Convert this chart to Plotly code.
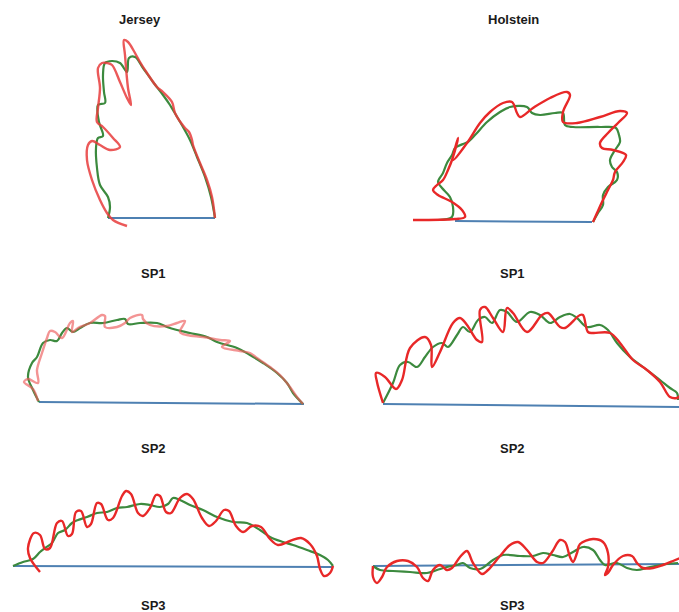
import plotly.graph_objects as go

W, H = 679, 612

# ---- outline profiles (x, y) for each breed / section ----
# Jersey SP1
jer_sp1_smooth = [(108, 218), (110, 207), (108, 197), (100, 185), (97, 168), (96, 148), (98, 138),
                  (103, 136), (99, 122), (98, 105), (105, 103), (104, 92), (103, 75), (105, 63),
                  (112, 61), (120, 63), (127, 72), (129, 58), (135, 57), (143, 68), (153, 82),
                  (163, 95), (170, 105), (173, 110), (183, 127), (190, 140), (197, 157), (205, 177),
                  (211, 197), (215, 218)]
jer_sp1_raw = [(127, 226), (113, 220), (107, 213), (100, 200), (92, 180), (87, 160), (88, 145),
               (92, 141), (100, 145), (110, 150), (120, 147), (113, 138), (103, 127), (97, 122),
               (98, 108), (100, 88), (98, 68), (102, 63), (107, 63), (112, 65), (120, 82), (127, 98),
               (131, 105), (128, 88), (125, 55), (124, 40), (128, 42), (135, 53), (140, 62),
               (147, 73), (157, 87), (163, 92), (172, 102), (175, 113), (185, 128), (189, 132),
               (192, 140), (193, 145), (200, 163), (207, 180), (212, 197), (215, 218)]
jer_sp1_base = [(108, 218), (215, 218)]

# Holstein SP1
hol_sp1_smooth = [(438, 220), (452, 217), (453, 207), (450, 197), (442, 188), (438, 182), (443, 173),
                  (447, 163), (452, 155), (455, 148), (463, 144), (468, 142), (476, 134), (487, 122),
                  (500, 112), (510, 107), (527, 107), (532, 113), (540, 115), (555, 113), (563, 113),
                  (565, 125), (573, 127), (600, 127), (616, 128), (619, 135), (620, 142), (615, 150),
                  (610, 160), (612, 167), (617, 172), (617, 180), (608, 187), (603, 195), (603, 205),
                  (598, 213), (593, 222)]
hol_sp1_raw = [(413, 220), (455, 219), (465, 217), (462, 210), (452, 202), (438, 195), (433, 190),
               (437, 185), (443, 180), (448, 170), (452, 160), (457, 143), (458, 138), (453, 160),
               (467, 143), (480, 123), (490, 112), (503, 103), (512, 102), (517, 113), (520, 117),
               (533, 108), (550, 98), (567, 92), (570, 95), (563, 112), (563, 122), (577, 123),
               (600, 117), (620, 111), (627, 113), (618, 123), (608, 133), (600, 143), (602, 148),
               (613, 150), (626, 155), (623, 162), (615, 172), (613, 180), (608, 190), (602, 202),
               (597, 213), (593, 222)]
hol_sp1_base = [(455, 221), (592, 222)]

# Jersey SP2
jer_sp2_smooth = [(39, 402), (33, 390), (28, 377), (32, 363), (37, 357), (43, 343), (50, 340),
                  (57, 341), (62, 333), (67, 328), (73, 332), (80, 328), (90, 323), (103, 323),
                  (117, 320), (125, 319), (128, 324), (140, 323), (157, 323), (167, 327), (177, 330),
                  (190, 333), (207, 337), (217, 342), (237, 348), (250, 355), (263, 363), (277, 373),
                  (287, 383), (293, 393), (303, 404)]
jer_sp2_raw = [(38, 401), (33, 389), (24, 382), (28, 379), (38, 383), (37, 370), (42, 353), (47, 338),
               (50, 331), (55, 332), (62, 338), (70, 323), (73, 321), (72, 332), (78, 328), (90, 323),
               (102, 315), (105, 316), (105, 327), (117, 327), (125, 323), (130, 318), (142, 315),
               (143, 319), (150, 325), (167, 326), (177, 323), (185, 321), (180, 332), (187, 335),
               (203, 337), (220, 340), (230, 341), (222, 347), (240, 351), (250, 353), (257, 358),
               (270, 367), (280, 375), (290, 387), (297, 397), (303, 404)]
jer_sp2_base = [(39, 402), (304, 404)]

# Holstein SP2
hol_sp2_smooth = [(383, 403), (393, 383), (400, 365), (408, 362), (417, 367), (425, 357), (433, 347),
                  (442, 343), (448, 347), (457, 335), (463, 327), (470, 332), (478, 320), (485, 317),
                  (492, 323), (500, 310), (507, 312), (517, 322), (530, 312), (540, 315), (550, 323),
                  (560, 317), (570, 314), (577, 318), (587, 327), (600, 325), (608, 330), (617, 343),
                  (630, 357), (643, 367), (660, 380), (670, 388), (677, 393), (678, 400)]
hol_sp2_raw = [(383, 403), (377, 382), (376, 373), (385, 377), (396, 389), (402, 380), (410, 348),
               (425, 337), (431, 345), (432, 367), (440, 352), (453, 323), (460, 318), (467, 325),
               (477, 340), (482, 342), (480, 310), (485, 307), (493, 318), (503, 332), (507, 308),
               (513, 313), (527, 332), (542, 315), (548, 313), (560, 327), (565, 328), (580, 315),
               (583, 315), (588, 332), (593, 333), (610, 333), (620, 343), (633, 360), (647, 370),
               (660, 382), (670, 397), (677, 398), (680, 396)]
hol_sp2_base = [(383, 404), (679, 407)]

# Jersey SP3
jer_sp3_smooth = [(13, 566), (23, 562), (33, 559), (40, 552), (45, 548), (52, 543), (58, 533),
                  (65, 530), (72, 523), (78, 520), (87, 517), (97, 513), (107, 512), (117, 508),
                  (127, 507), (140, 504), (150, 505), (160, 507), (168, 504), (173, 498), (180, 500),
                  (190, 505), (203, 510), (217, 517), (233, 522), (247, 523), (260, 530), (270, 537),
                  (283, 542), (293, 545), (307, 550), (320, 555), (328, 560), (333, 566)]
jer_sp3_raw = [(40, 572), (30, 558), (28, 548), (34, 533), (40, 535), (45, 549), (50, 548), (57, 523),
               (62, 521), (68, 536), (72, 534), (76, 512), (81, 511), (87, 527), (91, 524), (97, 503),
               (101, 504), (108, 520), (113, 518), (122, 496), (126, 491), (131, 494), (138, 513),
               (143, 516), (150, 508), (156, 495), (160, 496), (166, 512), (171, 513), (180, 498),
               (187, 494), (193, 499), (202, 518), (209, 526), (216, 521), (224, 510), (229, 511),
               (236, 526), (243, 532), (252, 526), (261, 527), (270, 539), (278, 545), (290, 541),
               (301, 538), (310, 544), (317, 556), (320, 569), (324, 576), (330, 573), (333, 566)]
jer_sp3_base = [(13, 566), (333, 567)]

# Holstein SP3
hol_sp3_smooth = [(373, 566), (380, 570), (393, 571), (410, 572), (427, 573), (437, 570), (447, 567),
                  (457, 565), (463, 563), (470, 568), (480, 569), (493, 560), (503, 555), (520, 556),
                  (533, 556), (543, 553), (553, 555), (563, 557), (573, 552), (583, 547), (593, 550),
                  (600, 560), (605, 565), (617, 563), (627, 568), (637, 570), (650, 567), (667, 564),
                  (678, 563)]
hol_sp3_raw = [(373, 566), (373, 577), (377, 583), (382, 577), (387, 567), (397, 561), (408, 561),
               (417, 567), (423, 578), (428, 581), (433, 570), (440, 565), (447, 570), (452, 568),
               (460, 557), (467, 551), (473, 563), (482, 574), (488, 570), (500, 556), (510, 545),
               (518, 542), (527, 550), (537, 562), (543, 563), (552, 552), (560, 540), (565, 542),
               (570, 557), (573, 562), (577, 553), (580, 544), (593, 539), (603, 542), (608, 553),
               (608, 567), (605, 575), (608, 573), (613, 565), (623, 556), (632, 556), (637, 563),
               (643, 568), (653, 568), (663, 565), (673, 561), (680, 558)]
hol_sp3_base = [(373, 566), (679, 564)]

# panel frames (x0, x1, y0, y1) in figure units
panels = [
    dict(box=(60, 240, 30, 240), smooth=jer_sp1_smooth, raw=jer_sp1_raw, base=jer_sp1_base, raw_color="rgba(232,60,60,0.85)"),
    dict(box=(400, 650, 80, 235), smooth=hol_sp1_smooth, raw=hol_sp1_raw, base=hol_sp1_base, raw_color="rgb(232,40,40)"),
    dict(box=(10, 320, 295, 415), smooth=jer_sp2_smooth, raw=jer_sp2_raw, base=jer_sp2_base, raw_color="rgba(236,90,90,0.65)"),
    dict(box=(360, 679, 290, 420), smooth=hol_sp2_smooth, raw=hol_sp2_raw, base=hol_sp2_base, raw_color="rgb(232,40,40)"),
    dict(box=(0, 340, 480, 585), smooth=jer_sp3_smooth, raw=jer_sp3_raw, base=jer_sp3_base, raw_color="rgb(232,40,40)"),
    dict(box=(360, 679, 520, 590), smooth=hol_sp3_smooth, raw=hol_sp3_raw, base=hol_sp3_base, raw_color="rgb(232,40,40)"),
]

titles = [("Jersey", 140, 20), ("Holstein", 513, 20),
          ("SP1", 153, 273), ("SP1", 512, 273),
          ("SP2", 153, 449), ("SP2", 512, 449),
          ("SP3", 153, 605), ("SP3", 512, 605)]

GREEN = "rgb(60,138,62)"
BLUE = "rgb(78,128,178)"

fig = go.Figure()
layout = dict(width=W, height=H, margin=dict(l=0, r=0, t=0, b=0),
              paper_bgcolor="white", plot_bgcolor="white", showlegend=False)

for i, p in enumerate(panels, start=1):
    x0, x1, y0, y1 = p["box"]
    xa, ya = ("x", "y") if i == 1 else (f"x{i}", f"y{i}")
    key = "" if i == 1 else str(i)
    layout[f"xaxis{key}"] = dict(domain=[x0 / W, x1 / W], range=[x0, x1], visible=False,
                                 anchor=ya, fixedrange=True)
    layout[f"yaxis{key}"] = dict(domain=[1 - y1 / H, 1 - y0 / H], range=[y1, y0], visible=False,
                                 anchor=xa, fixedrange=True)
    bx, by = zip(*p["base"])
    fig.add_trace(go.Scatter(x=bx, y=by, mode="lines", xaxis=xa, yaxis=ya,
                             line=dict(color=BLUE, width=2)))
    sx, sy = zip(*p["smooth"])
    fig.add_trace(go.Scatter(x=sx, y=sy, mode="lines", xaxis=xa, yaxis=ya,
                             line=dict(color=GREEN, width=2.2, shape="spline", smoothing=1.0)))
    rx, ry = zip(*p["raw"])
    fig.add_trace(go.Scatter(x=rx, y=ry, mode="lines", xaxis=xa, yaxis=ya,
                             line=dict(color=p["raw_color"], width=2.4, shape="spline", smoothing=1.0)))

layout["annotations"] = [
    dict(text=f"<b>{t}</b>", x=x / W, y=1 - y / H, xref="paper", yref="paper",
         showarrow=False, xanchor="center", yanchor="middle",
         font=dict(family="Liberation Sans, Arial, sans-serif", size=13, color="#1a1a1a"))
    for t, x, y in titles
]

fig.update_layout(**layout)
fig.write_html("out.html")
